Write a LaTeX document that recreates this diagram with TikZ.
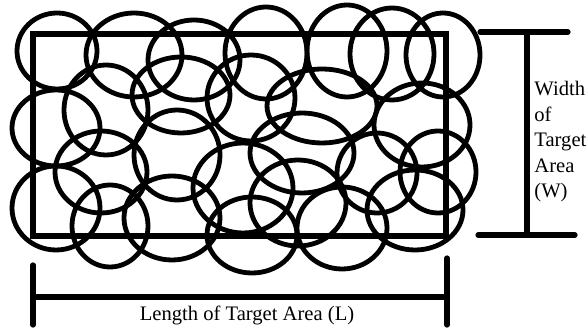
\documentclass[tikz,border=0pt]{standalone}
\usepackage{fontspec}
\setmainfont{Liberation Serif}
\usetikzlibrary{positioning}
\tikzset{
blobline/.style={line width=2.4pt,black},
areaframe/.style={line width=2.6pt,black},
dimline/.style={line width=2.6pt,black,line cap=round},
dimlabel/.style={inner sep=0pt,font=\fontsize{10.3}{12.75}\selectfont}
}
\begin{document}
\begin{tikzpicture}[x=0.5pt,y=-0.5pt]
\useasboundingbox (0,0) rectangle (588,330);
% target area
\draw[areaframe] (33,34) rectangle (446,236);
% overlapping coverage ellipses (cx,cy,rx,ry)
\foreach \cx/\cy/\rx/\ry in {57/51/40/38, 134/55/48/42, 194/60/46/40, 266/53/41/46,
  347/51/40/46, 392/54/42/46, 443/55/37/42, 56/128/44/38, 106/110/42/45,
  181/95/49/38, 251/98/44/43, 322/106/55/37, 422/125/48/42, 177/155/43/45,
  101/172/46/41, 56/208/44/42, 110/226/38/41, 172/218/48/42, 243/188/50/45,
  302/153/52/40, 377/173/40/40, 438/172/38/41, 415/210/48/40, 298/203/48/43,
  252/235/45/38, 342/228/45/41}
  \draw[blobline] (\cx,\cy) ellipse [x radius=\rx, y radius=\ry];
% width bracket
\draw[dimline] (480,32) -- (568,32);
\draw[dimline] (527,32) -- (527,235);
\draw[dimline] (478,235) -- (575,235);
\node[dimlabel,anchor=north west,align=left] (wlabel) at (534,81) {Width\\of\\Target\\Area\\(W)};
% length bracket
\draw[dimline] (33,265) -- (33,325);
\draw[dimline] (33,297) -- (447,297);
\draw[dimline] (447,258) -- (447,325);
\node[dimlabel,anchor=base] (llabel) at (247,321) {Length of Target Area (L)};
\end{tikzpicture}
\end{document}
